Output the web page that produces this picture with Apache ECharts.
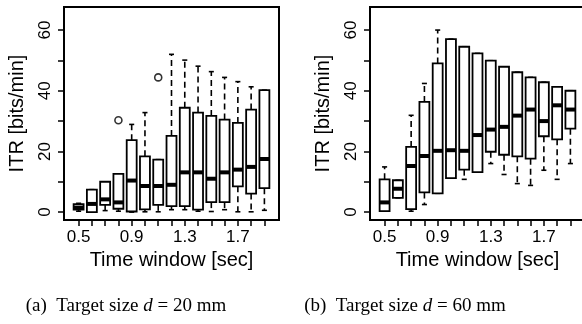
<!DOCTYPE html>
<html>
<head>
<meta charset="utf-8">
<script src="https://cdn.jsdelivr.net/npm/echarts@6/dist/echarts.min.js"></script>
<style>
  html, body { margin: 0; padding: 0; background: #fff; }
  #chart { width: 582px; height: 324px; }
</style>
</head>
<body>
<div id="chart"></div>
<script>
// time windows (sec), one box per window
const timeWindows = ['0.5', '0.6', '0.7', '0.8', '0.9', '1.0', '1.1', '1.2', '1.3', '1.4', '1.5', '1.6', '1.7', '1.8', '1.9'];
const labelIdx = [0, 4, 8, 12];

// (a) d = 20 mm : whisker low, Q1, median, Q3, whisker high
const aLow  = [0.3, 0.0, 0.5, 0.3, 0.0, 0.1, 0.1, 0.8, 0.8, 0.3, 0.2, 0.8, 0.1, 0.1, 0.6];
const aQ1   = [0.8, 0.0, 2.4, 1.1, 0.2, 0.9, 2.4, 2.0, 2.0, 0.8, 3.3, 3.3, 8.5, 6.1, 7.9];
const aMed  = [1.5, 2.7, 4.2, 3.2, 10.4, 8.6, 8.6, 9.0, 13.1, 13.1, 11.0, 13.1, 14.0, 14.9, 17.5];
const aQ3   = [2.6, 7.4, 10.0, 12.6, 23.7, 18.4, 17.3, 25.1, 34.4, 32.8, 31.7, 30.5, 29.4, 33.8, 40.2];
const aHigh = [2.9, 7.4, 10.0, 12.6, 28.9, 32.8, 17.3, 52.0, 50.1, 48.1, 46.3, 44.4, 43.0, 41.3, 40.2];
const aOutliers = [[3, 30.3], [6, 44.4]];

// (b) d = 60 mm
const bLow  = [0.3, 4.7, 0.3, 2.5, 6.2, 11.2, 10.8, 13.2, 16.0, 12.4, 9.4, 8.8, 13.8, 10.8, 16.0];
const bQ1   = [0.3, 4.7, 1.0, 6.5, 6.2, 11.2, 14.0, 13.2, 19.9, 18.9, 18.4, 17.6, 25.0, 24.0, 27.5];
const bMed  = [3.2, 7.7, 15.2, 18.5, 20.2, 20.4, 20.2, 25.4, 27.2, 28.1, 31.8, 33.8, 30.0, 35.2, 33.8];
const bQ3   = [10.8, 10.5, 21.5, 36.3, 49.0, 57.0, 54.5, 52.3, 49.9, 47.9, 46.1, 44.4, 42.8, 41.3, 40.0];
const bHigh = [14.9, 10.5, 31.9, 42.4, 60.0, 57.0, 54.5, 52.3, 49.9, 47.9, 46.1, 44.4, 42.8, 41.3, 40.0];
const bOutliers = [];

const yTicks = [0, 10, 20, 30, 40, 50, 60];
const yLabels = [0, 20, 40, 60];

const sans = 'Liberation Sans, Arial, sans-serif';
const serif = 'Liberation Serif, Times New Roman, serif';

const toRows = (lo, q1, md, q3, hi) => lo.map((v, i) => [i, v, q1[i], md[i], q3[i], hi[i]]);

// R-style box: dashed whiskers with staples, white box, thick median
function renderBox(params, api) {
  const x = api.value(0);
  const lo = api.value(1), q1 = api.value(2), md = api.value(3), q3 = api.value(4), hi = api.value(5);
  const unit = api.size([1, 0])[0];
  const hw = unit * 0.375;
  const sw = unit * 0.19;
  const p = v => api.coord([x, v]);
  const cx = p(0)[0];
  const yLo = p(lo)[1], yQ1 = p(q1)[1], yMd = p(md)[1], yQ3 = p(q3)[1], yHi = p(hi)[1];
  const thin = { stroke: '#000', lineWidth: 1.6 };
  const dash = { stroke: '#000', lineWidth: 1.6, lineDash: [6, 4] };
  const kids = [];
  if (hi > q3) kids.push({ type: 'line', shape: { x1: cx, y1: yQ3, x2: cx, y2: yHi }, style: dash });
  if (lo < q1) kids.push({ type: 'line', shape: { x1: cx, y1: yQ1, x2: cx, y2: yLo }, style: dash });
  kids.push({ type: 'line', shape: { x1: cx - sw, y1: yHi, x2: cx + sw, y2: yHi }, style: thin });
  kids.push({ type: 'line', shape: { x1: cx - sw, y1: yLo, x2: cx + sw, y2: yLo }, style: thin });
  kids.push({
    type: 'rect',
    shape: { x: cx - hw, y: yQ3, width: hw * 2, height: yQ1 - yQ3 },
    style: { fill: '#fff', stroke: '#000', lineWidth: 1.8 }
  });
  kids.push({ type: 'line', shape: { x1: cx - hw, y1: yMd, x2: cx + hw, y2: yMd }, style: { stroke: '#000', lineWidth: 4 } });
  return { type: 'group', children: kids };
}

// panel (b) runs past the right edge, as in the original figure
const grids = [
  { left: 64, top: 7, width: 215, height: 213 },
  { left: 370, top: 7, width: 215, height: 213 }
];

const xAxes = grids.map((g, i) => ({
  type: 'value',
  gridIndex: i,
  min: -1.1,
  max: 15.1,
  name: 'Time window [sec]',
  nameLocation: 'middle',
  nameGap: 28,
  nameTextStyle: { color: '#000', fontSize: 20, fontFamily: sans },
  axisLine: { show: true, onZero: false, lineStyle: { color: '#000', width: 2 } },
  splitLine: { show: false },
  axisTick: { show: true, length: 6, customValues: timeWindows.map((t, k) => k), lineStyle: { color: '#000', width: 1.5 } },
  axisLabel: {
    color: '#000', fontSize: 17, fontFamily: sans, margin: 9,
    customValues: labelIdx,
    formatter: v => timeWindows[v]
  }
}));

const yAxes = grids.map((g, i) => ({
  type: 'value',
  gridIndex: i,
  min: -2.6,
  max: 67.6,
  name: 'ITR [bits/min]',
  nameLocation: 'middle',
  nameRotate: 90,
  nameGap: 37,
  nameTextStyle: { color: '#000', fontSize: 20, fontFamily: sans },
  axisLine: { show: true, onZero: false, lineStyle: { color: '#000', width: 2 } },
  splitLine: { show: false },
  axisTick: { show: true, length: 6, customValues: yTicks, lineStyle: { color: '#000', width: 1.5 } },
  axisLabel: {
    color: '#000', fontSize: 17, fontFamily: sans, margin: 10, rotate: 90,
    customValues: yLabels
  }
}));

const outlierStyle = { color: '#fff', borderColor: '#000', borderWidth: 1.6 };

const chart = echarts.init(document.getElementById('chart'), null, { renderer: 'canvas' });
chart.setOption({
  animation: false,
  backgroundColor: '#fff',
  grid: grids.map(g => Object.assign({
    show: true, borderColor: '#000', borderWidth: 2, backgroundColor: 'transparent',
    containLabel: false, outerBoundsMode: 'none'
  }, g)),
  xAxis: xAxes,
  yAxis: yAxes,
  series: [
    { type: 'custom', xAxisIndex: 0, yAxisIndex: 0, renderItem: renderBox, data: toRows(aLow, aQ1, aMed, aQ3, aHigh) },
    { type: 'scatter', xAxisIndex: 0, yAxisIndex: 0, symbol: 'circle', symbolSize: 7, itemStyle: outlierStyle, data: aOutliers },
    { type: 'custom', xAxisIndex: 1, yAxisIndex: 1, renderItem: renderBox, data: toRows(bLow, bQ1, bMed, bQ3, bHigh) },
    { type: 'scatter', xAxisIndex: 1, yAxisIndex: 1, symbol: 'circle', symbolSize: 7, itemStyle: outlierStyle, data: bOutliers }
  ],
  graphic: [
    {
      type: 'text', x: 126, y: 306,
      style: {
        text: '(a)  Target size {i|d} = 20 mm',
        fontSize: 19, fontFamily: serif, fill: '#000',
        textAlign: 'center', textVerticalAlign: 'middle',
        rich: { i: { fontStyle: 'italic', fontSize: 19, fontFamily: serif } }
      }
    },
    {
      type: 'text', x: 405, y: 306,
      style: {
        text: '(b)  Target size {i|d} = 60 mm',
        fontSize: 19, fontFamily: serif, fill: '#000',
        textAlign: 'center', textVerticalAlign: 'middle',
        rich: { i: { fontStyle: 'italic', fontSize: 19, fontFamily: serif } }
      }
    }
  ]
});
</script>
</body>
</html>
